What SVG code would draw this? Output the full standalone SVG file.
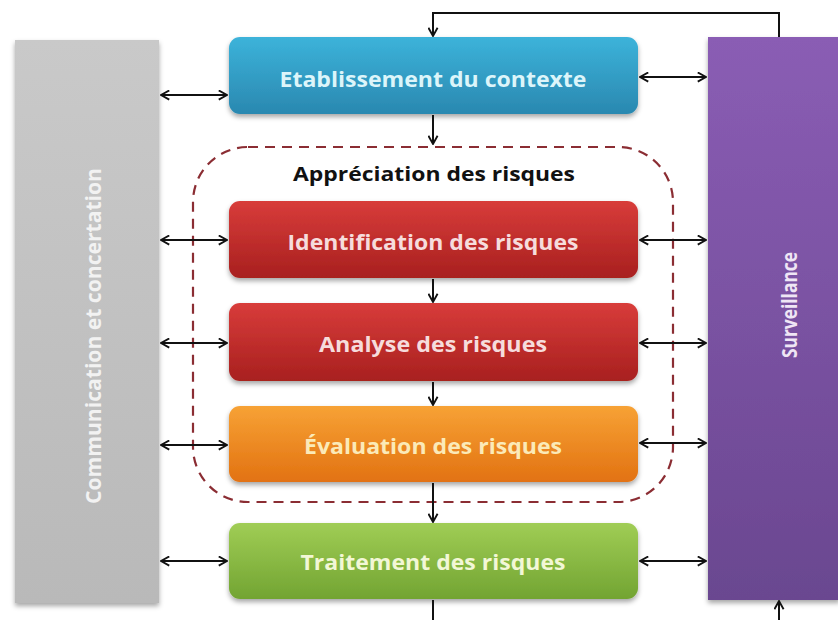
<svg xmlns="http://www.w3.org/2000/svg" width="838" height="620" viewBox="0 0 838 620">
<style>
.lbl{font-family:"Open Sans","Liberation Sans",sans-serif;font-weight:700;text-anchor:middle;dominant-baseline:central}
.box{filter:url(#sh)}
.ln{stroke:#111;stroke-width:2;fill:none}
</style>
<defs>
<filter id="sh" x="-10%" y="-20%" width="120%" height="150%"><feDropShadow dx="0" dy="3" stdDeviation="2.5" flood-color="#000" flood-opacity="0.35"/></filter>
<marker id="ah" viewBox="0 0 12 12" refX="11" refY="6" markerWidth="11" markerHeight="11" markerUnits="userSpaceOnUse" orient="auto-start-reverse"><path d="M2,1 L11,6 L2,11" fill="none" stroke="#111" stroke-width="2"/></marker>
<linearGradient id="gGray" x1="0" y1="0" x2="0" y2="1"><stop offset="0" stop-color="#c9c9c9"/><stop offset="1" stop-color="#b9b9b9"/></linearGradient>
<linearGradient id="gPur" x1="0" y1="0" x2="0" y2="1"><stop offset="0" stop-color="#8a5db4"/><stop offset="1" stop-color="#6a4790"/></linearGradient>
<linearGradient id="gBlue" x1="0" y1="0" x2="0" y2="1"><stop offset="0" stop-color="#3cb3da"/><stop offset="1" stop-color="#2a88b0"/></linearGradient>
<linearGradient id="gRed" x1="0" y1="0" x2="0" y2="1"><stop offset="0" stop-color="#d83c3a"/><stop offset="1" stop-color="#a8201f"/></linearGradient>
<linearGradient id="gOr" x1="0" y1="0" x2="0" y2="1"><stop offset="0" stop-color="#f7a235"/><stop offset="1" stop-color="#e27212"/></linearGradient>
<linearGradient id="gGr" x1="0" y1="0" x2="0" y2="1"><stop offset="0" stop-color="#a0cd55"/><stop offset="1" stop-color="#72a432"/></linearGradient>
</defs>
<rect width="838" height="620" fill="#fff"/>

<g id="communication">
<rect x="15" y="40" width="144" height="563" fill="url(#gGray)" class="box"/>
<text class="lbl" transform="translate(92,336) rotate(-90)" font-size="22" fill="#f2f2f2" textLength="336" lengthAdjust="spacingAndGlyphs">Communication et concertation</text>
</g>

<g id="surveillance">
<rect x="708" y="37" width="132" height="563" fill="url(#gPur)" class="box"/>
<text class="lbl" transform="translate(789,305) rotate(-90)" font-size="21" fill="#efe6f5" textLength="106" lengthAdjust="spacingAndGlyphs">Surveillance</text>
</g>

<g id="appreciation">
<rect x="193" y="147" width="480" height="355" rx="55" ry="55" fill="none" stroke="#8b2d33" stroke-width="2.2" stroke-dasharray="10,7"/>
<text class="lbl" x="434" y="173" font-size="20" fill="#111" textLength="282" lengthAdjust="spacingAndGlyphs">Appréciation des risques</text>
</g>

<g id="contexte">
<rect x="229" y="37" width="409" height="77" rx="11" fill="url(#gBlue)" class="box"/>
<text class="lbl" x="433" y="78" font-size="21.5" fill="#dcf5fa" textLength="307" lengthAdjust="spacingAndGlyphs">Etablissement du contexte</text>
</g>

<g id="identification">
<rect x="229" y="201" width="409" height="77" rx="11" fill="url(#gRed)" class="box"/>
<text class="lbl" x="433" y="241" font-size="21.5" fill="#f6dcdc" textLength="291" lengthAdjust="spacingAndGlyphs">Identification des risques</text>
</g>

<g id="analyse">
<rect x="229" y="303" width="409" height="78" rx="11" fill="url(#gRed)" class="box"/>
<text class="lbl" x="433" y="343" font-size="21.5" fill="#f6dcdc" textLength="228" lengthAdjust="spacingAndGlyphs">Analyse des risques</text>
</g>

<g id="evaluation">
<rect x="229" y="406" width="409" height="76" rx="11" fill="url(#gOr)" class="box"/>
<text class="lbl" x="433" y="445" font-size="21.5" fill="#fbeab8" textLength="258" lengthAdjust="spacingAndGlyphs">Évaluation des risques</text>
</g>

<g id="traitement">
<rect x="229" y="523" width="409" height="76" rx="11" fill="url(#gGr)" class="box"/>
<text class="lbl" x="433" y="561" font-size="21.5" fill="#f2f7d6" textLength="265" lengthAdjust="spacingAndGlyphs">Traitement des risques</text>
</g>

<g id="connectors">
<path class="ln" d="M779,37 V13 H433 V36" marker-end="url(#ah)"/>
<path class="ln" d="M433,115 V144" marker-end="url(#ah)"/>
<path class="ln" d="M433,279 V302" marker-end="url(#ah)"/>
<path class="ln" d="M433,382 V405" marker-end="url(#ah)"/>
<path class="ln" d="M433,483 V522" marker-end="url(#ah)"/>
<path class="ln" d="M433,600 V620"/>
<path class="ln" d="M779,620 V601" marker-end="url(#ah)"/>

<path class="ln" d="M161,95 H227" marker-start="url(#ah)" marker-end="url(#ah)"/>
<path class="ln" d="M161,240 H227" marker-start="url(#ah)" marker-end="url(#ah)"/>
<path class="ln" d="M161,343 H227" marker-start="url(#ah)" marker-end="url(#ah)"/>
<path class="ln" d="M161,445 H227" marker-start="url(#ah)" marker-end="url(#ah)"/>
<path class="ln" d="M161,561 H227" marker-start="url(#ah)" marker-end="url(#ah)"/>

<path class="ln" d="M640,77 H706" marker-start="url(#ah)" marker-end="url(#ah)"/>
<path class="ln" d="M640,240 H706" marker-start="url(#ah)" marker-end="url(#ah)"/>
<path class="ln" d="M640,343 H706" marker-start="url(#ah)" marker-end="url(#ah)"/>
<path class="ln" d="M640,443 H706" marker-start="url(#ah)" marker-end="url(#ah)"/>
<path class="ln" d="M640,561 H706" marker-start="url(#ah)" marker-end="url(#ah)"/>
</g>
</svg>
